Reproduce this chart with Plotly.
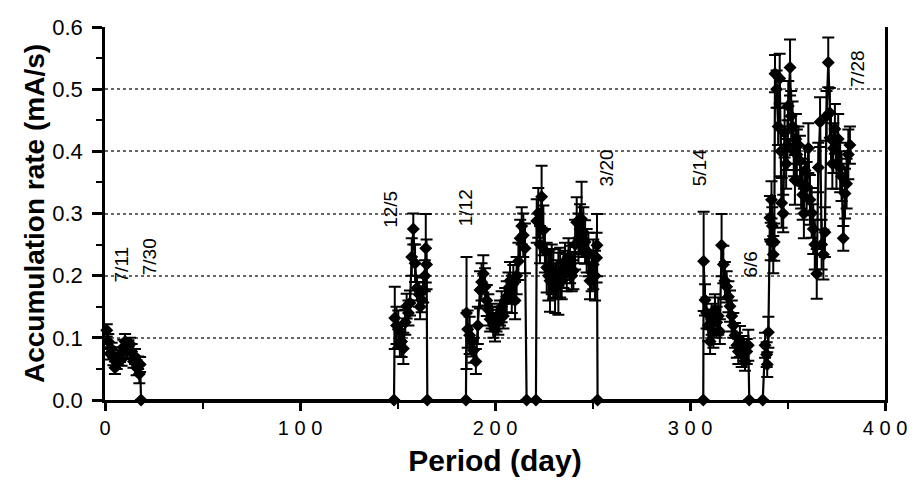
import plotly.graph_objects as go

# ---- data (day, accumulation rate mA/s, error) ----
days = [
    0.9, 1.7, 2.6, 3.4, 4.3, 5.1, 6.0, 6.8, 7.7, 8.5, 9.4, 10.3, 11.2, 12.0, 12.9, 13.7, 14.6, 15.4, 16.2, 17.0, 17.6, 18.0, 18.5,
    148.2, 148.6, 149.5, 150.4, 151.2, 152.1, 153.0, 154.0, 154.7, 155.6, 156.4, 157.3, 158.1, 159.0, 160.0, 161.0, 161.6, 162.4, 163.2, 164.0, 164.5, 164.9, 165.3,
    185.1, 185.4, 186.0, 187.0, 188.0, 189.0, 190.2, 191.2, 192.3, 193.1, 194.0, 194.9, 195.8, 196.6, 197.5, 198.3, 199.2, 200.0, 200.8, 201.7, 202.6, 203.4, 204.3, 205.2, 206.0, 206.9, 207.7, 208.6, 209.4, 210.3, 211.1, 212.0, 212.9, 213.7, 214.5, 215.4, 216.2,
    221.0, 221.4, 222.2, 223.1, 223.9, 224.8, 225.6, 226.5, 227.4, 228.2, 229.1, 229.9, 230.8, 231.7, 232.5, 233.4, 234.2, 235.1, 235.9, 236.8, 237.7, 238.5, 239.4, 240.2, 241.1, 241.9, 242.8, 243.6, 244.4, 245.3, 246.2, 247.0, 247.9, 248.7, 249.6, 250.4, 251.3, 252.1, 252.3, 252.6,
    306.8, 307.0, 307.7, 308.5, 309.4, 310.3, 311.1, 312.0, 312.8, 313.7, 314.5, 315.3, 316.2, 317.1, 317.9, 318.8, 319.7, 320.5, 321.4, 322.2, 323.1, 324.0, 324.8, 325.6, 326.5, 327.4, 328.2, 329.1, 329.9, 330.4,
    337.3, 338.5, 339.3, 339.6, 340.2,
    341.0, 341.4, 341.8, 342.2, 342.7, 343.2, 343.6, 344.4, 345.2, 346.0, 346.6, 347.0, 347.8, 348.5, 349.3, 350.0, 350.4, 351.3, 351.9, 352.6, 353.2, 353.8, 354.3, 354.8, 355.6, 356.4, 357.0, 357.8, 358.4, 359.0, 359.8, 360.7, 361.5, 362.4, 363.2, 364.0, 365.0, 365.8, 366.7, 367.5, 368.4, 369.2, 370.0, 370.9, 371.7, 372.3, 373.0, 373.5, 374.3, 375.1, 376.0, 377.0, 377.7, 378.6, 379.5, 380.3, 381.2, 382.0,
]

rate = [
    0.112, 0.094, 0.075, 0.082, 0.068, 0.052, 0.060, 0.066, 0.073, 0.065, 0.085, 0.094, 0.078, 0.086, 0.090, 0.078, 0.062, 0.070, 0.052, 0.060, 0.042, 0.057, 0.0,
    0.0, 0.132, 0.120, 0.114, 0.090, 0.094, 0.083, 0.125, 0.151, 0.140, 0.156, 0.230, 0.275, 0.220, 0.180, 0.170, 0.150, 0.161, 0.177, 0.200, 0.244, 0.218, 0.0,
    0.0, 0.140, 0.114, 0.104, 0.095, 0.080, 0.062, 0.120, 0.177, 0.190, 0.203, 0.182, 0.160, 0.145, 0.130, 0.135, 0.120, 0.114, 0.130, 0.125, 0.140, 0.150, 0.135, 0.160, 0.166, 0.180, 0.192, 0.170, 0.187, 0.160, 0.200, 0.223, 0.260, 0.280, 0.265, 0.244, 0.0,
    0.0, 0.288, 0.301, 0.250, 0.327, 0.273, 0.240, 0.213, 0.200, 0.192, 0.210, 0.203, 0.180, 0.195, 0.187, 0.205, 0.192, 0.210, 0.223, 0.205, 0.230, 0.218, 0.200, 0.208, 0.250, 0.286, 0.260, 0.275, 0.291, 0.270, 0.254, 0.240, 0.234, 0.192, 0.205, 0.218, 0.200, 0.229, 0.249, 0.0,
    0.0, 0.223, 0.161, 0.140, 0.120, 0.094, 0.130, 0.109, 0.145, 0.125, 0.135, 0.110, 0.249, 0.218, 0.192, 0.182, 0.166, 0.151, 0.135, 0.120, 0.104, 0.088, 0.078, 0.094, 0.073, 0.083, 0.062, 0.078, 0.088, 0.0,
    0.0, 0.088, 0.073, 0.057, 0.109,
    0.293, 0.255, 0.322, 0.280, 0.234, 0.254, 0.525, 0.500, 0.440, 0.517, 0.400, 0.317, 0.300, 0.430, 0.380, 0.410, 0.473, 0.535, 0.457, 0.440, 0.400, 0.354, 0.420, 0.395, 0.410, 0.385, 0.348, 0.330, 0.300, 0.369, 0.343, 0.405, 0.322, 0.301, 0.275, 0.250, 0.203, 0.374, 0.447, 0.250, 0.234, 0.270, 0.457, 0.543, 0.462, 0.420, 0.380, 0.405, 0.436, 0.380, 0.420, 0.374, 0.360, 0.260, 0.332, 0.348, 0.395, 0.410,
]

err = [
    0.010, 0.012, 0.010, 0.010, 0.012, 0.010, 0.010, 0.010, 0.012, 0.010, 0.012, 0.012, 0.010, 0.010, 0.010, 0.012, 0.010, 0.012, 0.012, 0.010, 0.015, 0.012, 0.0,
    0.0, 0.050, 0.030, 0.030, 0.020, 0.025, 0.025, 0.020, 0.020, 0.020, 0.020, 0.030, 0.025, 0.030, 0.020, 0.020, 0.020, 0.020, 0.020, 0.025, 0.055, 0.040, 0.0,
    0.0, 0.090, 0.030, 0.030, 0.025, 0.020, 0.020, 0.030, 0.030, 0.030, 0.030, 0.030, 0.025, 0.025, 0.020, 0.020, 0.020, 0.020, 0.020, 0.020, 0.020, 0.025, 0.020, 0.020, 0.025, 0.025, 0.030, 0.030, 0.030, 0.030, 0.030, 0.030, 0.030, 0.030, 0.035, 0.040, 0.0,
    0.0, 0.035, 0.040, 0.030, 0.050, 0.040, 0.035, 0.040, 0.040, 0.050, 0.040, 0.040, 0.040, 0.030, 0.050, 0.040, 0.030, 0.030, 0.030, 0.030, 0.030, 0.030, 0.025, 0.030, 0.040, 0.040, 0.040, 0.040, 0.060, 0.040, 0.035, 0.035, 0.035, 0.030, 0.030, 0.040, 0.040, 0.040, 0.050, 0.0,
    0.0, 0.080, 0.025, 0.025, 0.025, 0.020, 0.025, 0.025, 0.025, 0.025, 0.030, 0.020, 0.050, 0.030, 0.030, 0.025, 0.025, 0.025, 0.025, 0.020, 0.020, 0.020, 0.020, 0.025, 0.020, 0.020, 0.015, 0.020, 0.025, 0.0,
    0.0, 0.020, 0.020, 0.020, 0.025,
    0.035, 0.030, 0.030, 0.030, 0.030, 0.030, 0.030, 0.030, 0.030, 0.040, 0.040, 0.040, 0.030, 0.040, 0.040, 0.040, 0.040, 0.045, 0.040, 0.040, 0.040, 0.040, 0.040, 0.040, 0.030, 0.040, 0.040, 0.040, 0.040, 0.040, 0.040, 0.040, 0.040, 0.040, 0.040, 0.040, 0.040, 0.040, 0.040, 0.040, 0.040, 0.040, 0.040, 0.040, 0.040, 0.040, 0.040, 0.040, 0.040, 0.040, 0.040, 0.040, 0.040, 0.020, 0.040, 0.040, 0.040, 0.030,
]

# date labels on the chart
label_texts = ["7/11", "7/30", "12/5", "1/12", "3/20", "5/14", "6/6", "7/28"]
label_days = [8.2, 23.0, 146.0, 184.6, 257.4, 305.0, 330.8, 386.0]
label_rates = [0.218, 0.231, 0.307, 0.31, 0.374, 0.374, 0.218, 0.533]

x_ticks = [0, 100, 200, 300, 400]
y_ticks = [0.0, 0.1, 0.2, 0.3, 0.4, 0.5, 0.6]

FONT = "Liberation Sans, Arial, Helvetica, sans-serif"

fig = go.Figure()
fig.add_trace(go.Scatter(
    x=days, y=rate, mode="lines+markers",
    line=dict(color="black", width=2.2),
    marker=dict(symbol="diamond", size=10, color="black"),
    error_y=dict(type="data", array=err, visible=True, color="black", thickness=2, width=6),
    cliponaxis=False, showlegend=False,
))

for t, d, r in zip(label_texts, label_days, label_rates):
    fig.add_annotation(x=d, y=r, xref="x", yref="y", text=t, showarrow=False,
                       textangle=-90, font=dict(family=FONT, size=19, color="black"))

# page body has an 8px margin: shrink the figure so the plot area lands where the reference has it
fig.update_layout(
    width=909, height=478,
    margin=dict(l=97, r=32, t=7, b=86),
    plot_bgcolor="white", paper_bgcolor="white",
    font=dict(family=FONT, color="black"),
)
fig.update_xaxes(
    range=[0, 400], tickvals=x_ticks, ticktext=[" ".join(str(v)) for v in x_ticks],
    showline=True, linecolor="black", linewidth=2.5,
    ticks="outside", ticklen=8, tickwidth=2.5, tickcolor="black",
    minor=dict(dtick=50, ticks="outside", ticklen=6, tickwidth=2, tickcolor="black", showgrid=False),
    showgrid=False, zeroline=False,
    tickfont=dict(family=FONT, size=20), ticklabeloverflow="allow",
    title=dict(text="<b>Period (day)</b>", font=dict(family=FONT, size=30), standoff=13),
)
fig.update_yaxes(
    range=[0, 0.6], tickvals=y_ticks, ticktext=[f"{v:.1f}" for v in y_ticks],
    showline=True, linecolor="black", linewidth=2.5, mirror=True,
    ticks="outside", ticklen=10, tickwidth=2.5, tickcolor="black",
    minor=dict(dtick=0.05, ticks="outside", ticklen=6, tickwidth=2, tickcolor="black", showgrid=False),
    showgrid=True, gridcolor="#666666", gridwidth=1.5, griddash="dot",
    zeroline=False,
    tickfont=dict(family=FONT, size=22), ticklabeloverflow="allow", ticklabelstandoff=5,
    title=dict(text="<b>Accumulation rate (mA/s)</b>", font=dict(family=FONT, size=28), standoff=0),
)

fig.write_html("out.html")
